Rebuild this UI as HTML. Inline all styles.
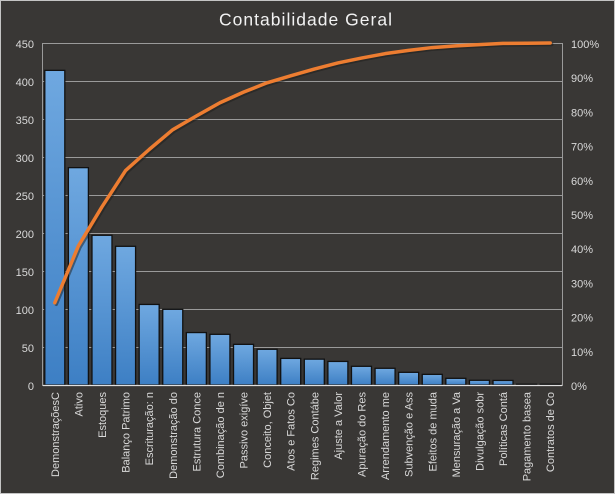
<!DOCTYPE html>
<html><head><meta charset="utf-8"><style>
html,body{margin:0;padding:0;background:#393735;}
svg{display:block;}
text{font-family:"Liberation Sans",sans-serif;fill:#d9d9d9;}
</style></head><body>
<svg width="615" height="494" viewBox="0 0 615 494" xmlns="http://www.w3.org/2000/svg">
<defs>
<linearGradient id="bg" x1="0" y1="0" x2="0" y2="1">
<stop offset="0" stop-color="#6fa8e0"/>
<stop offset="1" stop-color="#3d7fc4"/>
</linearGradient>
</defs>
<rect x="0.5" y="0.5" width="614" height="493" fill="#393735" stroke="#c4c4c4" stroke-width="1"/>
<text x="305.5" y="25.5" font-size="17.5" text-anchor="middle" textLength="173" lengthAdjust="spacing" style="fill:#f2f2f2">Contabilidade  Geral</text>
<g id="grid" stroke="#9a9a9a" stroke-width="1">
<line x1="43" y1="43.5" x2="562" y2="43.5"/>
<line x1="43" y1="81.5" x2="562" y2="81.5"/>
<line x1="43" y1="119.5" x2="562" y2="119.5"/>
<line x1="43" y1="157.5" x2="562" y2="157.5"/>
<line x1="43" y1="195.5" x2="562" y2="195.5"/>
<line x1="43" y1="233.5" x2="562" y2="233.5"/>
<line x1="43" y1="271.5" x2="562" y2="271.5"/>
<line x1="43" y1="309.5" x2="562" y2="309.5"/>
<line x1="43" y1="347.5" x2="562" y2="347.5"/>
<line x1="42.5" y1="43" x2="42.5" y2="386"/>
<line x1="562.5" y1="43" x2="562.5" y2="386"/>
</g>
<g id="bars" stroke="#111" stroke-width="1.3" fill="url(#bg)"></g>
<line x1="43" y1="385.5" x2="562" y2="385.5" stroke="#e0e0e0" stroke-width="1.2"/>
<g font-size="11" text-anchor="end">
<text x="34" y="48">450</text>
<text x="34" y="86">400</text>
<text x="34" y="124">350</text>
<text x="34" y="162">300</text>
<text x="34" y="200">250</text>
<text x="34" y="238">200</text>
<text x="34" y="276">150</text>
<text x="34" y="314">100</text>
<text x="34" y="352">50</text>
<text x="34" y="390">0</text>
</g>
<g font-size="11">
<text x="571" y="48">100%</text>
<text x="571" y="82.2">90%</text>
<text x="571" y="116.4">80%</text>
<text x="571" y="150.6">70%</text>
<text x="571" y="184.8">60%</text>
<text x="571" y="219">50%</text>
<text x="571" y="253.2">40%</text>
<text x="571" y="287.4">30%</text>
<text x="571" y="321.6">20%</text>
<text x="571" y="355.8">10%</text>
<text x="571" y="390">0%</text>
</g>
<g id="labels" font-size="11" text-anchor="end"></g>
<polyline id="shadow" fill="none" stroke="#1e1d1c" stroke-opacity="0.5" stroke-width="3.5" stroke-linejoin="round" stroke-linecap="round"/>
<polyline id="line" fill="none" stroke="#ed7d31" stroke-width="3.5" stroke-linejoin="round" stroke-linecap="round"/>
</svg>
<script>
(function(){
var vals=[414,286,197,182.5,106,99.6,69,66.7,53.5,47,35,34,31,24.6,22,16.7,14,8.8,6.2,6,1,1];
var labs=["DemonstraçõesC","Ativo","Estoques","Balanço Patrimo","Escrituração: n","Demonstração do","Estrutura Conce","Combinação de n","Passivo exigíve","Conceito, Objet","Atos e Fatos Co","Regimes Contábe","Ajuste a Valor","Apuração do Res","Arrendamento me","Subvenção e Ass","Efeitos de muda","Mensuração a Va","Divulgação sobr","Políticas Contá","Pagamento basea","Contratos de Co"];
var NS="http://www.w3.org/2000/svg";
var x0=43,x1=562,y0=385,h=342,n=22,w=(x1-x0)/n;
var total=vals.reduce(function(a,b){return a+b;},0);
var bars=document.getElementById("bars"),lg=document.getElementById("labels");
var pts=[],cum=0;
for(var i=0;i<n;i++){
 var cx=x0+w*(i+0.5);
 var bh=vals[i]/450*h;
 var r=document.createElementNS(NS,"rect");
 r.setAttribute("x",(cx-10).toFixed(2));
 r.setAttribute("y",(y0-bh).toFixed(2));
 r.setAttribute("width","20");
 r.setAttribute("height",Math.max(bh,0.5).toFixed(2));
 bars.appendChild(r);
 var t=document.createElementNS(NS,"text");
 t.setAttribute("transform","translate("+(cx+4).toFixed(2)+",392) rotate(-90)");
 t.textContent=labs[i];
 lg.appendChild(t);
 cum+=vals[i];
 pts.push(cx.toFixed(2)+","+(y0-cum/total*h).toFixed(2));
}
document.getElementById("line").setAttribute("points",pts.join(" "));
var sp=pts.map(function(p){var a=p.split(",");return (parseFloat(a[0])+1.5)+","+(parseFloat(a[1])+1.5);});
document.getElementById("shadow").setAttribute("points",sp.join(" "));
})();
</script>
</body></html>
